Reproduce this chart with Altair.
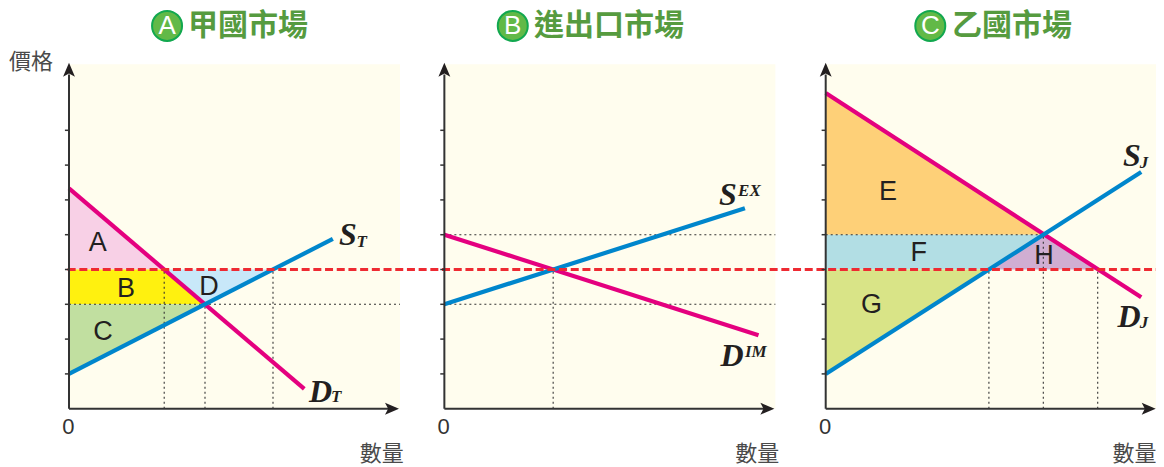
import altair as alt
import pandas as pd

W, H = 1148, 458
X_UNIT, Y_UNIT = 13.6, 34.8
X_DOMAIN = [-61 / X_UNIT, (W - 61) / X_UNIT]
Y_TOP = 400.7 / Y_UNIT
Y_DOMAIN = [Y_TOP - H / Y_UNIT, Y_TOP]

# horizontal start of each panel, in quantity units
PANEL_OFFSET = {"A": 0.0, "B": 27.6, "C": 55.64}
PANEL_WIDTH = 24.34
PANEL_TOP = 9.9

# (panel, colour, q values, upper p values, lower p values)
AREAS = [
    ("A", "#F8D0E6", [0, 7], [6.33, 4], [4, 4]),
    ("A", "#FFF10F", [0, 7, 10], [4, 4, 3], [3, 3, 3]),
    ("A", "#C1DFA0", [0, 10], [3, 3], [1, 3]),
    ("A", "#C8E8F9", [7, 10, 15], [4, 4, 4], [4, 3, 4]),
    ("C", "#FED078", [0, 16], [9.07, 5], [5, 5]),
    ("C", "#B2DEE4", [0, 12, 16], [5, 5, 5], [4, 4, 5]),
    ("C", "#D9E487", [0, 12], [4, 4], [1, 4]),
    ("C", "#D0AED2", [12, 16, 20], [4, 5, 4], [4, 4, 4]),
]

# (panel, colour, q values, p values)
CURVES = [
    ("A", "#E4007F", [0, 17.3], [6.33, 0.57]),
    ("A", "#0086CC", [0, 19.4], [1, 4.88]),
    ("B", "#E4007F", [0, 23.1], [5, 2.11]),
    ("B", "#0086CC", [0, 22.1], [3, 5.76]),
    ("C", "#E4007F", [0, 23.2], [9.07, 3.2]),
    ("C", "#0086CC", [0, 23.2], [1, 6.8]),
]

# (panel, q from, q to, p)
H_DOTTED = [
    ("A", 0, PANEL_WIDTH, 3),
    ("B", 0, PANEL_WIDTH, 3),
    ("B", 0, PANEL_WIDTH, 5),
    ("C", 0, 16, 5),
]
# (panel, q, p top)
V_DOTTED = [
    ("A", 7, 4), ("A", 10, 3), ("A", 15, 4),
    ("B", 8, 4),
    ("C", 12, 4), ("C", 16, 5), ("C", 20, 4),
]

WORLD_PRICE = 4
WORLD_Q_RANGE = [-0.1, 80]

TICK_PRICES = [1, 2, 3, 4, 5, 6, 7, 8]
PANELS = ["A", "B", "C"]

AREA_LABELS = [
    ("A", "A", 2.11, 4.76), ("A", "B", 4.19, 3.45), ("A", "C", 2.5, 2.21), ("A", "D", 10.29, 3.51),
    ("C", "E", 4.58, 6.24), ("C", "F", 6.84, 4.46), ("C", "G", 3.36, 2.98), ("C", "H", 16.05, 4.40),
]
CURVE_MAIN = [
    ("A", "S", 19.85, 4.70), ("A", "D", 17.65, 0.19),
    ("B", "S", 20.2, 5.85), ("B", "D", 20.3, 1.23),
    ("C", "S", 21.86, 6.97), ("C", "D", 21.46, 2.35),
]
CURVE_SUB = [
    ("A", "T", 21.14, 4.66), ("A", "T", 19.26, 0.18),
    ("B", "EX", 21.6, 6.11), ("B", "IM", 22.1, 1.49),
    ("C", "J", 23.1, 6.93), ("C", "J", 23.1, 2.32),
]
TITLES = [("A", "甲國市場", 8.75), ("B", "進出口市場", 6.6), ("C", "乙國市場", 9.29)]
BADGES = [("A", 7.21), ("B", 5.03), ("C", 7.69)]
TITLE_P = 11.0
PRICE_LABEL = ("A", "價格", -2.79, 9.96)
QTY_LABEL_Q = {"A": 23.0, "B": 23.0, "C": 22.7}
QTY_LABEL_P = -1.30
ZERO_Q, ZERO_P = -0.05, -0.54

xs = alt.Scale(domain=X_DOMAIN, nice=False, zero=False)
ys = alt.Scale(domain=Y_DOMAIN, nice=False, zero=False)
X = alt.X("x:Q", scale=xs, axis=None)
Y = alt.Y("y:Q", scale=ys, axis=None)
X2 = alt.X2("x2:Q")
Y2 = alt.Y2("y2:Q")


def off(panel, q):
    return PANEL_OFFSET[panel] + q


layers = []

# panel backgrounds
bg = pd.DataFrame([
    {"x": off(p, 0), "x2": off(p, PANEL_WIDTH), "y": 0, "y2": PANEL_TOP} for p in PANELS
])
layers.append(alt.Chart(bg).mark_rect(color="#FFFDEE").encode(x=X, x2=X2, y=Y, y2=Y2))

# shaded regions
for panel, colour, qs, up, lo in AREAS:
    d = pd.DataFrame({"x": [off(panel, q) for q in qs], "y": up, "y2": lo})
    layers.append(
        alt.Chart(d).mark_area(color=colour, opacity=1, interpolate="linear").encode(
            x=X, y=alt.Y("y:Q", scale=ys, axis=None, stack=None), y2=Y2
        )
    )

# dotted guides
hd = pd.DataFrame([{"x": off(p, a), "x2": off(p, b), "y": v} for p, a, b, v in H_DOTTED])
layers.append(
    alt.Chart(hd).mark_rule(color="#333333", strokeWidth=1.1, strokeDash=[2, 3]).encode(x=X, x2=X2, y=Y)
)
vd = pd.DataFrame([{"x": off(p, q), "y": 0, "y2": t} for p, q, t in V_DOTTED])
layers.append(
    alt.Chart(vd).mark_rule(color="#333333", strokeWidth=1.1, strokeDash=[2, 3]).encode(x=X, y=Y, y2=Y2)
)

# supply and demand curves
for panel, colour, qs, ps in CURVES:
    d = pd.DataFrame({"x": [off(panel, q) for q in qs], "y": ps})
    layers.append(alt.Chart(d).mark_line(color=colour, strokeWidth=4.2).encode(x=X, y=Y))

# world price
wp = pd.DataFrame([{"x": WORLD_Q_RANGE[0], "x2": WORLD_Q_RANGE[1], "y": WORLD_PRICE}])
layers.append(
    alt.Chart(wp).mark_rule(color="#EE2A32", strokeWidth=2.8, strokeDash=[8, 3.7]).encode(x=X, x2=X2, y=Y)
)

# axes
ax_y = pd.DataFrame([{"x": off(p, 0), "y": 0, "y2": 9.6} for p in PANELS])
ax_x = pd.DataFrame([{"x": off(p, 0), "x2": off(p, 24.0), "y": 0} for p in PANELS])
layers.append(alt.Chart(ax_y).mark_rule(color="#333333", strokeWidth=2).encode(x=X, y=Y, y2=Y2))
layers.append(alt.Chart(ax_x).mark_rule(color="#333333", strokeWidth=2).encode(x=X, x2=X2, y=Y))
ticks = pd.DataFrame([
    {"x": off(p, -0.3), "x2": off(p, 0), "y": t} for p in PANELS for t in TICK_PRICES
])
layers.append(alt.Chart(ticks).mark_rule(color="#333333", strokeWidth=1.5).encode(x=X, x2=X2, y=Y))
up = pd.DataFrame([{"x": off(p, 0), "y": 9.74} for p in PANELS])
right = pd.DataFrame([{"x": off(p, 23.75), "y": 0} for p in PANELS])
layers.append(
    alt.Chart(up).mark_point(
        shape="M0,-1L0.85,1L0,0.55L-0.85,1Z", size=196, filled=True, color="#231F20", opacity=1
    ).encode(x=X, y=Y)
)
layers.append(
    alt.Chart(right).mark_point(
        shape="M1,0L-1,0.85L-0.55,0L-1,-0.85Z", size=196, filled=True, color="#231F20", opacity=1
    ).encode(x=X, y=Y)
)


def text_layer(rows, **kw):
    d = pd.DataFrame(rows)
    return alt.Chart(d).mark_text(**kw).encode(x=X, y=Y, text="t:N")


layers.append(text_layer(
    [{"x": off(p, q), "y": v, "t": t} for p, t, q, v in AREA_LABELS],
    font="Liberation Sans", fontSize=27, color="#231F20", align="center", baseline="middle",
))
layers.append(text_layer(
    [{"x": off(p, q), "y": v, "t": t} for p, t, q, v in CURVE_MAIN],
    font="Liberation Serif", fontSize=32, fontWeight="bold", fontStyle="italic", color="#231F20",
    align="left", baseline="alphabetic",
))
layers.append(text_layer(
    [{"x": off(p, q), "y": v, "t": t} for p, t, q, v in CURVE_SUB],
    font="Liberation Serif", fontSize=17, fontWeight="bold", fontStyle="italic", color="#231F20",
    align="left", baseline="alphabetic",
))
layers.append(text_layer(
    [{"x": off(p, q), "y": TITLE_P, "t": t} for p, t, q in TITLES],
    font="Liberation Sans, Noto Sans CJK TC", fontSize=30, fontWeight="bold", color="#569B3F",
    align="left", baseline="middle",
))
badge = pd.DataFrame([{"x": off(p, q), "y": TITLE_P, "t": p} for p, q in BADGES])
layers.append(
    alt.Chart(badge).mark_point(
        shape="circle", size=900, filled=True, fill="#62B947", stroke="#12A84F", strokeWidth=2, opacity=1
    ).encode(x=X, y=Y)
)
layers.append(
    alt.Chart(badge).mark_text(
        font="Liberation Sans", fontSize=26, color="#FFFFFF", align="center", baseline="middle"
    ).encode(x=X, y=Y, text="t:N")
)
layers.append(text_layer(
    [{"x": off(PRICE_LABEL[0], PRICE_LABEL[2]), "y": PRICE_LABEL[3], "t": PRICE_LABEL[1]}]
    + [{"x": off(p, QTY_LABEL_Q[p]), "y": QTY_LABEL_P, "t": "數量"} for p in PANELS],
    font="Liberation Sans, Noto Sans CJK TC", fontSize=22, color="#4A4A4A", align="center", baseline="middle",
))
layers.append(text_layer(
    [{"x": off(p, ZERO_Q), "y": ZERO_P, "t": "0"} for p in PANELS],
    font="Liberation Sans", fontSize=22, color="#333333", align="center", baseline="middle",
))

chart = alt.layer(*layers).properties(
    width=W, height=H, padding=0, background="#FFFFFF", autosize=alt.AutoSizeParams(type="none")
).configure_view(strokeWidth=0, strokeOpacity=0)

chart.save("out.html", embed_options={"renderer": "svg", "actions": False})
